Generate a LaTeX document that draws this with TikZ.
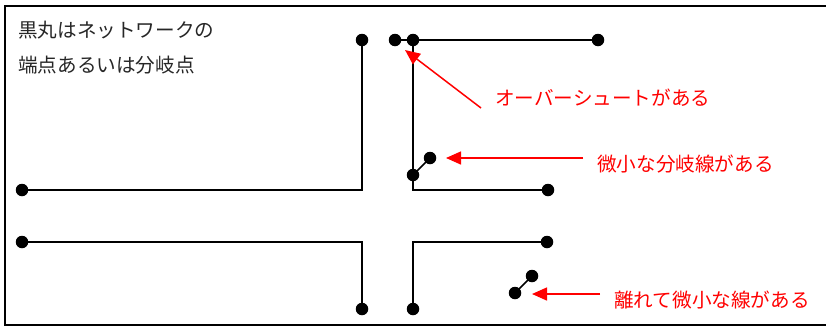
\documentclass[tikz,border=0pt]{standalone}
\usepackage{fontspec}
\newfontfamily\jp{Noto Sans CJK JP}
\usetikzlibrary{arrows.meta}
\begin{document}
\begin{tikzpicture}[x=1pt,y=-1pt,
  net/.style={line width=1.5pt,black},
  dotnode/.style={circle,fill=black,inner sep=0pt,minimum size=12.5pt},
  callout/.style={red,line width=1.5pt,-{Triangle[length=15pt,width=13pt]}},
  redlabel/.style={red,font=\jp\fontsize{19.6}{21}\selectfont,anchor=west,inner sep=0pt},
  blacklabel/.style={black!85,font=\jp\fontsize{19.6}{21}\selectfont,anchor=west,inner sep=0pt}]
\useasboundingbox (0,0) rectangle (826,327);
\draw[line width=1.6pt] (826,6) -- (5,6) -- (5,325) -- (826,325);
% nodes
\node[dotnode] (a1) at (362,40) {};
\node[dotnode] (a2) at (22,190) {};
\coordinate (ac) at (362,190);
\node[dotnode] (b1) at (395,40) {};
\node[dotnode] (b2) at (413,40) {};
\node[dotnode] (b3) at (598,40) {};
\node[dotnode] (b4) at (548,190) {};
\coordinate (bc) at (413,190);
\node[dotnode] (s1) at (413,175) {};
\node[dotnode] (s2) at (430,158) {};
\node[dotnode] (c1) at (22,242) {};
\node[dotnode] (c2) at (362,309) {};
\coordinate (cc) at (362,242);
\node[dotnode] (d1) at (413,309) {};
\node[dotnode] (d2) at (547,242) {};
\coordinate (dc) at (413,242);
\node[dotnode] (e1) at (515,293) {};
\node[dotnode] (e2) at (532,276) {};
% lines
\draw[net] (a1.center) -- (ac) -- (a2.center);
\draw[net] (b1.center) -- (b2.center) -- (b3.center);
\draw[net] (b2.center) -- (bc) -- (b4.center);
\draw[net] (s1.center) -- (s2.center);
\draw[net] (c1.center) -- (cc) -- (c2.center);
\draw[net] (d1.center) -- (dc) -- (d2.center);
\draw[net] (e1.center) -- (e2.center);
% labels
\node[blacklabel] (t1) at (18,30) {黒丸はネットワークの};
\node[blacklabel] (t2) at (18,65) {端点あるいは分岐点};
\node[redlabel] (l1) at (495,98) {オーバーシュートがある};
\node[redlabel] (l2) at (597,164) {微小な分岐線がある};
\node[redlabel] (l3) at (614,300) {離れて微小な線がある};
\coordinate (l1s) at (481,108);
\coordinate (l1e) at (405,50);
\coordinate (l2s) at (583,158);
\coordinate (l2e) at (446,158);
\coordinate (l3s) at (600,294);
\coordinate (l3e) at (532,294);
\draw[callout] (l1s) -- (l1e);
\draw[callout] (l2s) -- (l2e);
\draw[callout] (l3s) -- (l3e);
\end{tikzpicture}
\end{document}
